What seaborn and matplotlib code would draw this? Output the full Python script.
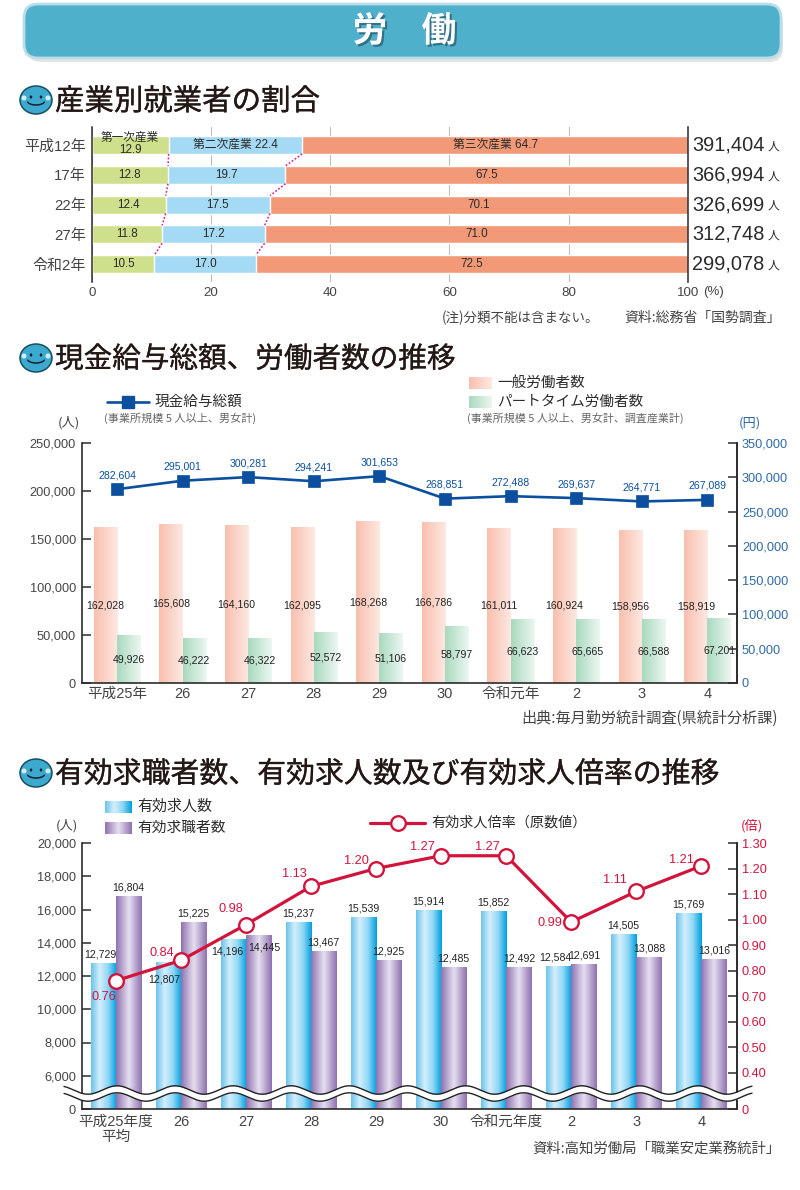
import numpy as np
import pandas as pd
import matplotlib
matplotlib.use("Agg")
import matplotlib.pyplot as plt
import matplotlib.patheffects as pe
from matplotlib.colors import LinearSegmentedColormap
from matplotlib.patches import FancyBboxPatch, Ellipse
import seaborn as sns

# --- data: industry share ---
share_rows = ['平成12年', '17年', '22年', '27年', '令和2年']
primary = [12.9, 12.8, 12.4, 11.8, 10.5]
secondary = [22.4, 19.7, 17.5, 17.2, 17.0]
tertiary = [64.7, 67.5, 70.1, 71.0, 72.5]
workers_total = ['391,404', '366,994', '326,699', '312,748', '299,078']

# --- data: wages and workers ---
wage_years = ['平成25年', '26', '27', '28', '29', '30', '令和元年', '2', '3', '4']
general_workers = [162028, 165608, 164160, 162095, 168268, 166786, 161011, 160924, 158956, 158919]
part_workers = [49926, 46222, 46322, 52572, 51106, 58797, 66623, 65665, 66588, 67201]
cash_wages = [282604, 295001, 300281, 294241, 301653, 268851, 272488, 269637, 264771, 267089]

# --- data: job offers ---
job_years = ['平成25年度\n平均', '26', '27', '28', '29', '30', '令和元年度', '2', '3', '4']
job_offers = [12729, 12807, 14196, 15237, 15539, 15914, 15852, 12584, 14505, 15769]
job_seekers = [16804, 15225, 14445, 13467, 12925, 12485, 12492, 12691, 13088, 13016]
ratio_points = [0.76, 0.84, 0.98, 1.13, 1.20, 1.25, 1.25, 0.99, 1.11, 1.21]
ratio_labels = ['0.76', '0.84', '0.98', '1.13', '1.20', '1.27', '1.27', '0.99', '1.11', '1.21']

W, H = 800, 1190
FONT = ['Liberation Sans', 'Noto Sans CJK JP', 'DejaVu Sans']
CJK = ['Noto Sans CJK JP', 'DejaVu Sans']
DARK = '#2b2b2b'
GREY = '#444444'
NAVY = '#0b4f9e'
TICK_BLUE = '#2f6aa3'
RED = '#d2143c'
VALUE_SIZE = 7.6

sns.set_theme(style='white')
plt.rcParams['font.family'] = FONT
plt.rcParams['axes.unicode_minus'] = False


def px(n):
    # pixels to points at dpi 100
    return n * 0.72


def axes_at(x0, y0, x1, y1):
    return fig.add_axes([x0 / W, 1 - y1 / H, (x1 - x0) / W, (y1 - y0) / H])


def gradient_cmap(colors):
    return LinearSegmentedColormap.from_list('bar', colors)


def paint(ax, bar, cmap):
    # lay a horizontal gradient over one bar
    b = bar.get_bbox()
    ax.imshow(np.linspace(0, 1, 64).reshape(1, -1), extent=(b.x0, b.x1, b.y0, b.y1),
              aspect='auto', cmap=cmap, zorder=2, interpolation='bilinear')


def style_axis(ax):
    ax.tick_params(axis='y', direction='in', length=px(9), width=1.1, color=DARK, pad=px(6),
                   labelsize=9.2, labelcolor=GREY, left=True)
    ax.tick_params(axis='x', length=0, pad=px(4), labelsize=10.5, labelcolor=GREY)
    for side in ['left', 'bottom', 'right']:
        ax.spines[side].set_visible(True)
        ax.spines[side].set_color(DARK)
        ax.spines[side].set_linewidth(1.2)
    ax.spines['top'].set_visible(False)


fig = plt.figure(figsize=(W / 100, H / 100), dpi=100, facecolor='white')

# --- chart 1: industry share (layered cumulative bars) ---
share = pd.DataFrame({'row': share_rows, 'primary': primary, 'secondary': secondary, 'tertiary': tertiary})
share['to_second'] = share['primary'] + share['secondary']
share['to_third'] = share['to_second'] + share['tertiary']

ax1 = axes_at(91.7, 127, 688, 282)
sns.barplot(data=share, y='row', x='to_third', color='#f29a78', saturation=1, width=0.6, ax=ax1)
sns.barplot(data=share, y='row', x='to_second', color='#a5daf4', saturation=1, width=0.6, ax=ax1)
sns.barplot(data=share, y='row', x='primary', color='#cfe08c', saturation=1, width=0.6, ax=ax1)
ax1.set_xlim(0, 100)
ax1.set_ylim(4.6, -0.605)
ax1.set_xlabel('')
ax1.set_ylabel('')
ax1.set_xticks([0, 20, 40, 60, 80, 100])
ax1.xaxis.grid(True, color='#bdbdbd', lw=0.8)
ax1.set_axisbelow(True)
ax1.tick_params(axis='x', length=0, pad=px(5), labelsize=9.6, labelcolor=GREY)
ax1.tick_params(axis='y', length=0, pad=px(6), labelsize=10.8, labelcolor=GREY)
for side in ['left', 'right']:
    ax1.spines[side].set_visible(True)
    ax1.spines[side].set_color(DARK)
    ax1.spines[side].set_linewidth(1.1)
ax1.spines['top'].set_visible(False)
ax1.spines['bottom'].set_visible(False)

for i in range(len(share_rows)):
    p, s, t = primary[i], secondary[i], tertiary[i]
    if i == 0:
        ax1.text(p / 2, i - 0.03, '第一次産業\n12.9', ha='center', va='center', fontsize=8.4, linespacing=1.0, color=DARK)
        ax1.text(p + s / 2, i, f'第二次産業 {s}', ha='center', va='center', fontsize=8.5, color=DARK)
        ax1.text(p + s + t / 2, i, f'第三次産業 {t}', ha='center', va='center', fontsize=8.5, color=DARK)
    else:
        ax1.text(p / 2, i, f'{p}', ha='center', va='center', fontsize=8.4, color=DARK)
        ax1.text(p + s / 2, i, f'{s}', ha='center', va='center', fontsize=8.4, color=DARK)
        ax1.text(p + s + t / 2, i, f'{t}', ha='center', va='center', fontsize=8.4, color=DARK)
    ax1.annotate(workers_total[i], xy=(100, i), xytext=(px(4), 0), textcoords='offset points',
                 ha='left', va='center', fontsize=14.4, color=DARK)
    ax1.annotate('人', xy=(100, i), xytext=(px(80), -1), textcoords='offset points',
                 ha='left', va='center', fontsize=8.5, color=DARK)

# dotted leader lines between the rows
for col in ['primary', 'to_second']:
    for i in range(len(share_rows) - 1):
        ax1.plot([share[col][i], share[col][i + 1]], [i + 0.3, i + 0.7], color='#d6238a', lw=1.1, ls=(0, (1.2, 1.2)))

# --- chart 2: wages and workers ---
workers = pd.DataFrame({
    'year': wage_years * 2,
    'kind': ['一般'] * len(wage_years) + ['パート'] * len(wage_years),
    'count': general_workers + part_workers,
})
ax2 = axes_at(82, 443, 737, 683)
sns.barplot(data=workers, x='year', y='count', hue='kind', order=wage_years, hue_order=['一般', 'パート'],
            palette=['#fbd5c9', '#cbe9d9'], saturation=1, width=0.71, dodge=True, legend=False, ax=ax2)
ax2.set_xlabel('')
ax2.set_ylabel('')
pink_cmap = gradient_cmap(['#f9bfae', '#fde9e2'])
green_cmap = gradient_cmap(['#a9d9bf', '#ecf7f1'])
for bar in ax2.containers[0]:
    paint(ax2, bar, pink_cmap)
for bar in ax2.containers[1]:
    paint(ax2, bar, green_cmap)
for cont, vals in zip(ax2.containers, [general_workers, part_workers]):
    for bar, v in zip(cont, vals):
        ax2.text(bar.get_x() + bar.get_width() / 2, v / 2, f'{v:,}', ha='center', va='center',
                 fontsize=VALUE_SIZE, color='#222222', zorder=4)
ax2.set_xlim(-0.534, 9.45)
ax2.set_ylim(0, 250000)
ax2.set_yticks(range(0, 250001, 50000))
ax2.set_yticklabels([f'{v:,}' for v in range(0, 250001, 50000)])
style_axis(ax2)

ax2r = ax2.twinx()
sns.lineplot(x=np.arange(len(wage_years)), y=cash_wages, color=NAVY, lw=1.9, marker='s', markersize=8.6,
             markeredgecolor=NAVY, markeredgewidth=0.5, errorbar=None, ax=ax2r)
for i, v in enumerate(cash_wages):
    ax2r.annotate(f'{v:,}', xy=(i, v), xytext=(0, px(14)), textcoords='offset points', ha='center', va='center',
                  fontsize=VALUE_SIZE, color=NAVY)
ax2r.set_ylim(0, 350000)
ax2r.set_yticks(range(0, 350001, 50000))
ax2r.set_yticklabels([f'{v:,}' for v in range(0, 350001, 50000)])
ax2r.tick_params(axis='y', direction='in', length=px(9), width=1.1, color=DARK, pad=px(5),
                 labelsize=9.2, labelcolor=TICK_BLUE, right=True)
for side in ['left', 'bottom', 'top']:
    ax2r.spines[side].set_visible(False)
ax2r.spines['right'].set_color(DARK)
ax2r.spines['right'].set_linewidth(1.2)
ax2r.grid(False)
ax2r.set_ylabel('')

# --- chart 3: job offers and seekers (axis is broken, 4000 position is shown as 0) ---
jobs = pd.DataFrame({
    'year': job_years * 2,
    'kind': ['求人'] * len(job_years) + ['求職'] * len(job_years),
    'count': job_offers + job_seekers,
})
ax3 = axes_at(82, 843, 737, 1109)
sns.barplot(data=jobs, x='year', y='count', hue='kind', order=job_years, hue_order=['求人', '求職'],
            palette=['#7fcdf0', '#b9a4d0'], saturation=1, width=0.78, dodge=True, legend=False, ax=ax3)
ax3.set_xlabel('')
ax3.set_ylabel('')
blue_cmap = gradient_cmap(['#6cc4ec', '#d4effc', '#8ed6f5', '#00a0e0'])
purple_cmap = gradient_cmap(['#8f72b0', '#e6e0f0', '#8f72b0'])
for bar in ax3.containers[0]:
    paint(ax3, bar, blue_cmap)
for bar in ax3.containers[1]:
    paint(ax3, bar, purple_cmap)
# labels sit above the bars, except where the line would run through them
nudged = {(0, 1): (-4, -17), (0, 2): (-6, -12), (1, 2): (6, -12), (0, 0): (-3, 9), (0, 7): (-3, 9)}
for k, (cont, vals) in enumerate(zip(ax3.containers, [job_offers, job_seekers])):
    for i, (bar, v) in enumerate(zip(cont, vals)):
        dx, dy = nudged.get((k, i), (0, 9))
        ax3.annotate(f'{v:,}', xy=(bar.get_x() + bar.get_width() / 2, v), xytext=(px(dx), px(dy)),
                     textcoords='offset points', ha='center', va='center', fontsize=VALUE_SIZE, color='#222222', zorder=4)
ax3.set_xlim(-0.523, 9.55)
ax3.set_ylim(4000, 20000)
ax3.set_yticks(range(4000, 20001, 2000))
ax3.set_yticklabels(['0'] + [f'{v:,}' for v in range(6000, 20001, 2000)])
style_axis(ax3)
ax3.tick_params(axis='x', pad=px(6))
for lab in ax3.get_xticklabels():
    lab.set_linespacing(1.1)

ax3r = ax3.twinx()
sns.lineplot(x=np.arange(len(job_years)), y=ratio_points, color=RED, lw=2.3, marker='o', markersize=10.5,
             markerfacecolor='white', markeredgecolor=RED, markeredgewidth=1.7, errorbar=None, ax=ax3r, zorder=5)
label_off = [(-12, -16), (-19, 7), (-15, 16), (-17, 12), (-20, 8), (-19, 9), (-19, 9), (-21, -1), (-21, 11), (-20, 6)]
for i, (v, s) in enumerate(zip(ratio_points, ratio_labels)):
    dx, dy = label_off[i]
    ax3r.annotate(s, xy=(i, v), xytext=(px(dx), px(dy)), textcoords='offset points', ha='center', va='center',
                  fontsize=9.2, color=RED, zorder=6)
ax3r.set_ylim(0.2569, 1.30)
ratio_ticks = [0.2569, 0.40, 0.50, 0.60, 0.70, 0.80, 0.90, 1.00, 1.10, 1.20, 1.30]
ax3r.set_yticks(ratio_ticks)
ax3r.set_yticklabels(['0'] + [f'{v:.2f}' for v in ratio_ticks[1:]])
ax3r.tick_params(axis='y', direction='in', length=px(9), width=1.1, color=DARK, pad=px(5),
                 labelsize=9.2, labelcolor=RED, right=True)
for side in ['left', 'bottom', 'top']:
    ax3r.spines[side].set_visible(False)
ax3r.spines['right'].set_color(DARK)
ax3r.spines['right'].set_linewidth(1.2)
ax3r.grid(False)
ax3r.set_ylabel('')

# --- overlay in pixel coordinates for banner, headings, legends and the axis break ---
top = fig.add_axes([0, 0, 1, 1], zorder=10)
top.patch.set_alpha(0)
top.axis('off')
top.set_autoscale_on(False)
top.set_xlim(0, W)
top.set_ylim(H, 0)


def put(x, y, s, size=10, color=GREY, ha='left', **kw):
    kw.setdefault('family', CJK)
    top.text(x, y, s, fontsize=size, color=color, ha=ha, va='center', **kw)


# banner
top.add_patch(FancyBboxPatch((27, 8), 756, 54, boxstyle='round,pad=0,rounding_size=14', fc='#d9d9d9', ec='none', alpha=0.7))
top.add_patch(FancyBboxPatch((24, 4), 757, 54, boxstyle='round,pad=0,rounding_size=14', fc='#4fb0cc', ec='#bcdde8', lw=2))
for tx, ch in [(370, '労'), (439, '働')]:
    put(tx, 31, ch, 25, 'white', ha='center', weight='bold',
        path_effects=[pe.withSimplePatchShadow(offset=(1.5, -1.5), shadow_rgbFace='#2c6275', alpha=0.8)])


def heading(y, s, size):
    # round smiling face, then the heading text
    top.add_patch(Ellipse((36, y), 32, 28, fc='#3ea9cf', ec='#17505f', lw=1.1))
    top.add_patch(Ellipse((24, y - 2), 5, 5, fc='#cfeef7', ec='none'))
    top.add_patch(Ellipse((48, y - 2), 5, 5, fc='#cfeef7', ec='none'))
    top.add_patch(Ellipse((31, y - 3), 2.6, 3.2, fc='#123', ec='none'))
    top.add_patch(Ellipse((41, y - 3), 2.6, 3.2, fc='#123', ec='none'))
    t = np.linspace(0.12, 0.88, 20) * np.pi
    top.plot(36 + 9 * np.cos(t), y + 0.5 + 4.5 * np.sin(t), color='#123', lw=1.1)
    put(55, y + 1.5, s, size, '#231815', weight='normal',
        path_effects=[pe.withStroke(linewidth=0.2, foreground='#231815')])


heading(100, '産業別就業者の割合', 21.2)
heading(358, '現金給与総額、労働者数の推移', 20.6)
heading(773, '有効求職者数、有効求人数及び有効求人倍率の推移', 20.8)

# chart 1 notes
put(703, 292, '(%)', 9.5, family=FONT)
put(442, 318, '(注)分類不能は含まない。', 9.7)
put(781, 318, '資料:総務省「国勢調査」', 10, ha='right')

# chart 2 legend and notes
top.plot([107, 149], [402, 402], color=NAVY, lw=1.9)
top.plot([128], [402], marker='s', ms=8.6, color=NAVY)
put(155, 402, '現金給与総額', 10.5, DARK)
put(104, 418, '(事業所規模 5 人以上、男女計)', 8, '#666666')
top.imshow(np.linspace(0, 1, 64).reshape(1, -1), extent=(469, 492, 389, 377), aspect='auto', cmap=pink_cmap)
top.imshow(np.linspace(0, 1, 64).reshape(1, -1), extent=(469, 492, 408, 396), aspect='auto', cmap=green_cmap)
put(497, 383, '一般労働者数', 10.5, DARK)
put(497, 402, 'パートタイム労働者数', 10.5, DARK)
put(467, 418, '(事業所規模 5 人以上、男女計、調査産業計)', 7.9, '#666666')
put(69, 423, '(人)', 9.5, ha='center')
put(750, 423, '(円)', 9.5, TICK_BLUE, ha='center')
put(778, 718, '出典:毎月勤労統計調査(県統計分析課)', 10.9, ha='right')

# chart 3 legend and notes
top.imshow(np.linspace(0, 1, 64).reshape(1, -1), extent=(105, 132, 813, 801), aspect='auto', cmap=blue_cmap)
top.imshow(np.linspace(0, 1, 64).reshape(1, -1), extent=(105, 132, 834, 822), aspect='auto', cmap=purple_cmap)
put(137, 807, '有効求人数', 10.8, DARK)
put(137, 828, '有効求職者数', 10.6, DARK)
top.plot([370, 425], [823, 823], color=RED, lw=2.3)
top.plot([398], [823], marker='o', ms=10.5, mfc='white', mec=RED, mew=1.7)
put(431, 823, '有効求人倍率\uff08原数値\uff09', 10.2, DARK)
put(67, 826, '(人)', 9.5, ha='center')
put(752, 826, '(倍)', 9.5, RED, ha='center')
put(781, 1150, '資料:高知労働局「職業安定業務統計」', 10.4, ha='right')

# wavy axis break across chart 3
wx = np.linspace(64, 752, 700)
wave = 4.2 * np.cos(2 * np.pi * (wx - 117) / 58.1)
top.fill_between(wx, 1090 - wave, 1097 - wave, color='white', lw=0)
top.plot(wx, 1090 - wave, color='#222222', lw=1)
top.plot(wx, 1097 - wave, color='#222222', lw=1)
top.set_xlim(0, W)
top.set_ylim(H, 0)

fig.savefig('out.png', dpi=100)
